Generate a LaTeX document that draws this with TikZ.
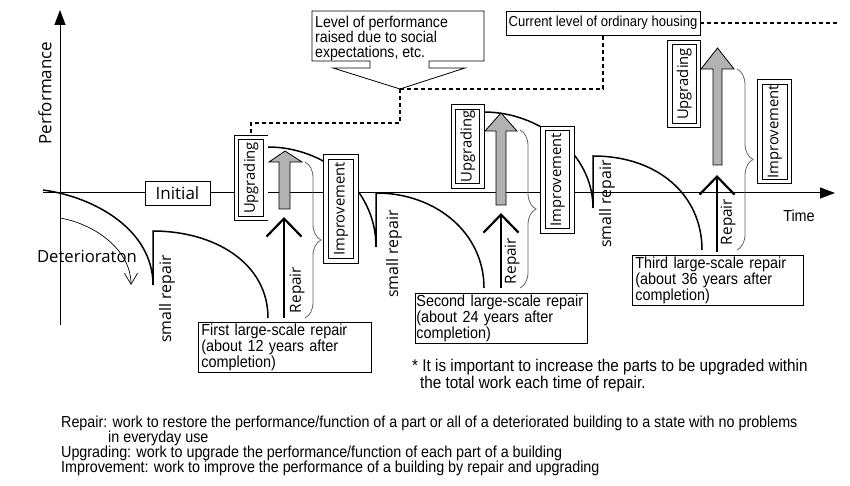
\documentclass[tikz,border=0pt]{standalone}
\usepackage{fontspec}
\setmainfont{Liberation Sans}
\newfontfamily\narrowsf{Liberation Sans}[FakeStretch=0.9]
\newfontfamily\roundsf{Open Sans}
\newcommand\caseface{\narrowsf\fontsize{16}{14.5}\selectfont\hyphenpenalty=10000 \exhyphenpenalty=10000 }
\usetikzlibrary{positioning, arrows.meta, decorations.pathreplacing}

\begin{document}
\begin{tikzpicture}[
x=1pt, y=-1pt,
axisline/.style={line width=1pt, -{Triangle[length=15pt,width=11pt]}},
wear/.style={line width=1.5pt},
thinwear/.style={line width=0.7pt, -{Straight Barb[length=11pt,width=13pt]}},
twinbox/.style={draw, fill=white, double, double distance=3.5pt, line width=0.8pt, rotate=90, inner sep=0pt, font=\roundsf\fontsize{14.8}{17}\selectfont},
casebox/.style={draw, fill=white, line width=0.8pt, anchor=north west, minimum height=50pt, inner xsep=3pt, inner ysep=0pt, align=left, font=\caseface},
liftarrow/.style={draw, fill=black!30, line width=0.8pt},
repairarrow/.style={line width=2.2pt, -{Straight Barb[length=18pt,width=35pt]}},
improvebrace/.style={draw=black!60, line width=0.8pt, decorate, decoration={brace, amplitude=16pt}},
levelline/.style={line width=1.2pt, dash pattern=on 4pt off 3pt},
rotlabel/.style={rotate=90, inner sep=0pt, font=\roundsf\fontsize{15.9}{18}\selectfont},
replabel/.style={rotate=90, inner sep=0pt, font=\roundsf\fontsize{15.3}{18}\selectfont},
noteline/.style={anchor=base west, inner sep=0pt, font=\narrowsf\fontsize{15.9}{16}\selectfont}
]
\useasboundingbox (0,0) rectangle (850,486);
\fill[white] (0,0) rectangle (850,486);

% axes
\coordinate (time_start) at (43,193);
\coordinate (time_end) at (835,193);
\coordinate (perf_start) at (60,325);
\coordinate (perf_end) at (60,10);
\draw[axisline] (perf_start) -- (perf_end);
\draw[axisline] (time_start) -- (time_end);
\node[rotate=90, inner sep=0pt, font=\roundsf\fontsize{17}{19}\selectfont] (perf_label) at (45,93) {Performance};
\node[inner sep=0pt, font=\narrowsf\fontsize{16}{18}\selectfont] (time_label) at (799,216) {Time};

% deterioration and small repairs
\draw[wear] (43,190) .. controls (95,197) and (153,230) .. (153,285) -- (153,231) .. controls (213,231) and (268,262) .. (268,318);
\draw[wear] (268,147) .. controls (323,147) and (376,187) .. (376,247) -- (376,193) .. controls (436,193) and (484,233) .. (484,288);
\draw[wear] (484,112) .. controls (539,112) and (593,153) .. (593,208) -- (593,156) .. controls (658,156) and (702,195) .. (702,250);

\draw[thinwear] (60,218) .. controls (95,224) and (131,250) .. (131,285);
\node[inner sep=0pt, font=\roundsf\fontsize{16.7}{18}\selectfont] (det_label) at (87,256) {Deterioraton};

\node[rotlabel] (small_1) at (167,299) {small repair};
\node[rotlabel] (small_2) at (394,254) {small repair};
\node[rotlabel] (small_3) at (607,204) {small repair};

% social level callout
\coordinate (raise_tip) at (400,89);
\draw[line width=0.8pt] (312,61) -- (312,11) -- (484,11) -- (484,61) -- (429,61) -- (429,68) -- (465,68) -- (raise_tip) -- (333,68) -- (370,68) -- (370,61) -- cycle;
\node[anchor=north west, inner sep=0pt, align=left, font=\narrowsf\fontsize{15.7}{15}\selectfont] (raise_text) at (315,16) {Level of performance\\raised due to social\\expectations, etc.};

\node[draw, line width=0.8pt, minimum width=194pt, minimum height=24pt, inner sep=0pt, font=\narrowsf\fontsize{14.5}{16}\selectfont] (current) at (603,23) {Current level of ordinary housing};

% boxes
\node[draw, fill=white, line width=0.8pt, minimum width=65pt, minimum height=24pt, inner sep=0pt, font=\roundsf\fontsize{17}{19}\selectfont] (initial) at (177.5,193) {Initial};

\node[twinbox, minimum width=81pt, minimum height=29.5pt] (upg_1) at (251,178) {Upgrading};
\node[twinbox, minimum width=104pt, minimum height=30pt] (imp_1) at (341,209) {Improvement};
\node[twinbox, minimum width=79pt, minimum height=28.5pt] (upg_2) at (467.75,146.5) {Upgrading};
\node[twinbox, minimum width=102.5pt, minimum height=29pt] (imp_2) at (557.5,179.75) {Improvement};
\node[twinbox, minimum width=83pt, minimum height=28.5pt] (upg_3) at (684.25,84) {Upgrading};
\node[twinbox, minimum width=99.5pt, minimum height=29.5pt] (imp_3) at (774.75,131.75) {Improvement};

\draw[levelline, shorten >=2.5pt] (raise_tip) -- (400,123) -| (upg_1.east);
\draw[levelline] (raise_tip) -| (current.south);
\draw[levelline] (current.east) -- (840,23);

% upgrading arrows
\draw[liftarrow] (279,209) -- (279,162) -- (269,162) -- (285,151) -- (302,162) -- (290,162) -- (290,209) -- cycle;
\draw[liftarrow] (496,205) -- (496,131) -- (485,131) -- (501,113) -- (517,131) -- (506,131) -- (506,205) -- cycle;
\draw[liftarrow] (713,165) -- (713,69) -- (701,69) -- (717.5,48) -- (734,69) -- (722,69) -- (722,165) -- cycle;

% repair arrows
\coordinate (rep_1_foot) at (284,318);
\coordinate (rep_1_head) at (284,217);
\coordinate (rep_2_foot) at (501,288);
\coordinate (rep_2_head) at (501,213);
\coordinate (rep_3_foot) at (717,252);
\coordinate (rep_3_head) at (717,175);
\draw[repairarrow] (rep_1_foot) -- (rep_1_head);
\draw[repairarrow] (rep_2_foot) -- (rep_2_head);
\draw[repairarrow] (rep_3_foot) -- (rep_3_head);
\node[replabel] (rep_1_text) at (297,290) {Repair};
\node[replabel] (rep_2_text) at (512,261) {Repair};
\node[replabel] (rep_3_text) at (728,222) {Repair};

% improvement braces
\draw[improvebrace] (305,162) -- (305,318);
\draw[improvebrace] (520,130) -- (520,288);
\draw[improvebrace] (737,69) -- (737,250);

% large-scale repairs
\node[casebox, text width=167pt] (case_1) at (198,322) {First large-scale repair\\(about 12 years after\\completion)};
\node[casebox, inner xsep=1pt, text width=170pt] (case_2) at (415,293) {Second large-scale repair\\(about 24 years after\\completion)};
\node[casebox, text width=165pt] (case_3) at (632,255) {Third large-scale repair\\(about 36 years after\\completion)};

% notes
\node[noteline, font=\narrowsf\fontsize{17}{17}\selectfont] (note_1) at (412,371) {* It is important to increase the parts to be upgraded within};
\node[noteline, font=\narrowsf\fontsize{17}{17}\selectfont] (note_2) at (420,388) {the total work each time of repair.};

\node[noteline] (def_repair) at (61,427) {Repair: work to restore the performance/function of a part or all of a deteriorated building to a state with no problems};
\node[noteline] (def_repair_b) at (108,442.3) {in everyday use};
\node[noteline] (def_upgrade) at (61,457.6) {Upgrading: work to upgrade the performance/function of each part of a building};
\node[noteline] (def_improve) at (61,472.9) {Improvement: work to improve the performance of a building by repair and upgrading};

\end{tikzpicture}
\end{document}
